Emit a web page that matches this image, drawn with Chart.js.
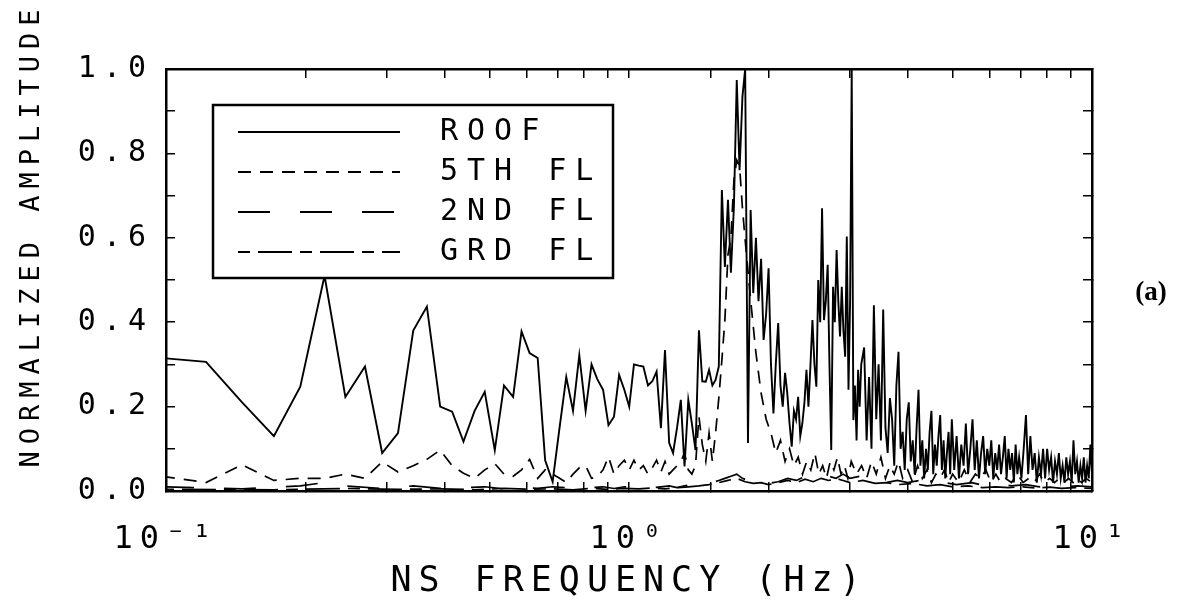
<!DOCTYPE html>
<html>
<head>
<meta charset="utf-8">
<title>NS frequency spectra</title>
<script src="https://cdn.jsdelivr.net/npm/chart.js@4.4.1/dist/chart.umd.min.js"></script>
<style>
  html, body { margin: 0; padding: 0; background: #fff; }
  #holder { position: relative; width: 1177px; height: 616px; }
</style>
</head>
<body>
<div id="holder"><canvas id="spectra"></canvas></div>
<script>
/*
 * Normalized Fourier amplitude spectra, NS direction
 * (roof, 5th floor, 2nd floor and ground floor records)
 */

var PLOT_FONT = '"DejaVu Sans Mono"';
var TEXT_SPACING = '7px';

// FFT bins (Hz)
var binFreq = [
    0.098, 0.122, 0.146, 0.171, 0.195, 0.220, 0.244, 0.269, 0.293, 0.317,
    0.342, 0.366, 0.391, 0.415, 0.439, 0.464, 0.488, 0.513, 0.537, 0.562,
    0.586, 0.610, 0.635, 0.659, 0.684, 0.708, 0.732, 0.757, 0.781, 0.806,
    0.830, 0.854, 0.879, 0.903, 0.928, 0.952, 0.977, 1.001, 1.025, 1.050,
    1.074, 1.099, 1.123, 1.147, 1.172, 1.196, 1.221, 1.245, 1.270, 1.294,
    1.318, 1.343, 1.367, 1.392, 1.416, 1.440, 1.465, 1.489, 1.514, 1.538,
    1.563, 1.587, 1.611, 1.636, 1.660, 1.685, 1.709, 1.733, 1.758, 1.782,
    1.807, 1.831, 1.855, 1.880, 1.904, 1.929, 1.953, 1.978, 2.002, 2.026,
    2.051, 2.075, 2.100, 2.124, 2.148, 2.173, 2.197, 2.222, 2.246, 2.271,
    2.295, 2.319, 2.344, 2.368, 2.393, 2.417, 2.441, 2.466, 2.490, 2.515,
    2.539, 2.563, 2.588, 2.612, 2.637, 2.661, 2.686, 2.710, 2.734, 2.759,
    2.783, 2.808, 2.832, 2.856, 2.881, 2.905, 2.930, 2.954, 2.979, 3.003,
    3.027, 3.052, 3.076, 3.101, 3.125, 3.149, 3.174
];

// ROOF
var roofLowAmp = [
    0.315, 0.306, 0.21, 0.130, 0.247, 0.51, 0.223, 0.295, 0.09, 0.137,
    0.38, 0.437, 0.20, 0.188, 0.117, 0.19, 0.235, 0.097, 0.25, 0.223,
    0.378, 0.327, 0.315, 0.073, 0.022, 0.15, 0.27, 0.19, 0.322, 0.19,
    0.30, 0.265, 0.24, 0.156, 0.176, 0.275, 0.24, 0.20, 0.30, 0.297,
    0.295, 0.25, 0.26, 0.283, 0.149, 0.334, 0.114, 0.09, 0.15, 0.216,
    0.058, 0.216, 0.16, 0.097, 0.381, 0.26, 0.259, 0.287, 0.25, 0.263,
    0.295, 0.713, 0.531, 0.69, 0.517, 0.674, 0.974, 0.76, 0.934, 1.0,
    0.114, 0.666, 0.469, 0.60, 0.45, 0.55, 0.358, 0.42, 0.528, 0.30,
    0.184, 0.30, 0.398, 0.25, 0.20, 0.28, 0.232, 0.16, 0.105, 0.19,
    0.17, 0.223, 0.13, 0.16, 0.21, 0.287, 0.20, 0.30, 0.405, 0.30,
    0.247, 0.50, 0.40, 0.67, 0.405, 0.45, 0.536, 0.30, 0.097, 0.484,
    0.40, 0.571, 0.45, 0.366, 0.484, 0.38, 0.318, 0.603, 0.24, 0.45,
    1.0, 0.168, 0.25, 0.12, 0.287, 0.20, 0.30
];
var roofTailFreq = [
    3.22, 3.26, 3.30, 3.34, 3.38, 3.42, 3.46, 3.50, 3.54, 3.58,
    3.62, 3.66, 3.70, 3.74, 3.78, 3.82, 3.86, 3.90, 3.94, 3.98,
    4.02, 4.06, 4.10, 4.14, 4.18, 4.22, 4.26, 4.30, 4.34, 4.38,
    4.42, 4.46, 4.50, 4.54, 4.58, 4.62, 4.66, 4.70, 4.74, 4.78,
    4.82, 4.86, 4.90, 4.94, 4.98,
    5.04, 5.10, 5.16, 5.22, 5.28, 5.34, 5.40, 5.46, 5.52, 5.58,
    5.64, 5.70, 5.76, 5.82, 5.88, 5.94, 6.00, 6.06, 6.12, 6.18,
    6.24, 6.30, 6.36, 6.42, 6.48, 6.54, 6.60, 6.66, 6.72, 6.78,
    6.84, 6.90, 6.96,
    7.04, 7.12, 7.20, 7.28, 7.36, 7.44, 7.52, 7.60, 7.68, 7.76,
    7.84, 7.92, 8.00, 8.08, 8.16, 8.24, 8.32, 8.40, 8.48, 8.56,
    8.64, 8.72, 8.80, 8.88, 8.96, 9.04, 9.12, 9.20, 9.28, 9.36,
    9.44, 9.52, 9.60, 9.68, 9.76, 9.84, 9.92, 10.00
];
var roofTailAmp = [
    0.34, 0.12, 0.27, 0.10, 0.44, 0.17, 0.30, 0.12, 0.43, 0.15,
    0.09, 0.22, 0.17, 0.06, 0.25, 0.33, 0.10, 0.14, 0.05, 0.17,
    0.21, 0.07, 0.12, 0.04, 0.15, 0.24, 0.06, 0.12, 0.03, 0.10,
    0.05, 0.14, 0.19, 0.04, 0.11, 0.06, 0.13, 0.18, 0.05, 0.12,
    0.03, 0.09, 0.14, 0.04, 0.17,
    0.05, 0.13, 0.03, 0.11, 0.06, 0.16, 0.04, 0.10, 0.17, 0.05,
    0.12, 0.03, 0.09, 0.13, 0.04, 0.10, 0.06, 0.12, 0.03, 0.09,
    0.05, 0.11, 0.04, 0.08, 0.13, 0.03, 0.10, 0.05, 0.09, 0.02,
    0.11, 0.04, 0.08,
    0.03, 0.10, 0.18, 0.04, 0.13, 0.05, 0.09, 0.02, 0.08, 0.04,
    0.10, 0.03, 0.10, 0.05, 0.08, 0.02, 0.07, 0.04, 0.09, 0.03,
    0.06, 0.02, 0.08, 0.04, 0.07, 0.02, 0.12, 0.04, 0.07, 0.02,
    0.06, 0.03, 0.08, 0.02, 0.06, 0.03, 0.11, 0.04
];

// 5TH FL (first 70 values sit on binFreq)
var fifthLowAmp = [
    0.035, 0.02, 0.062, 0.025, 0.03, 0.03, 0.04, 0.03, 0.069, 0.045,
    0.06, 0.075, 0.097, 0.06, 0.042, 0.03, 0.05, 0.065, 0.04, 0.035,
    0.05, 0.075, 0.03, 0.05, 0.04, 0.03, 0.02, 0.04, 0.055, 0.06,
    0.03, 0.034, 0.05, 0.081, 0.04, 0.06, 0.073, 0.05, 0.073, 0.05,
    0.06, 0.04, 0.055, 0.073, 0.045, 0.07, 0.04, 0.05, 0.06, 0.07,
    0.09, 0.05, 0.04, 0.06, 0.176, 0.11, 0.07, 0.137, 0.07, 0.137,
    0.22, 0.31, 0.405, 0.56, 0.60, 0.737, 0.784, 0.77, 0.67, 0.595
];
var fifthTailFreq = [
    1.831, 1.880, 1.929, 1.978, 2.026, 2.075, 2.124, 2.173, 2.222, 2.271,
    2.32, 2.37, 2.42, 2.47, 2.52, 2.57, 2.62, 2.67, 2.72, 2.77,
    2.82, 2.87, 2.92, 2.97, 3.02, 3.10, 3.18, 3.26, 3.34, 3.42,
    3.50, 3.58, 3.66, 3.74, 3.82, 3.90, 4.00, 4.10, 4.20, 4.30,
    4.40, 4.50, 4.60, 4.70, 4.80, 4.90, 5.00, 5.15, 5.30, 5.45,
    5.60, 5.75, 5.90, 6.05, 6.20, 6.35, 6.50, 6.70, 6.90, 7.10,
    7.30, 7.50, 7.70, 7.90, 8.10, 8.30, 8.50, 8.70, 8.90, 9.10,
    9.30, 9.50, 9.70, 10.00
];
var fifthTailAmp = [
    0.453, 0.327, 0.232, 0.17, 0.137, 0.09, 0.12, 0.07, 0.10, 0.06,
    0.08, 0.04, 0.07, 0.05, 0.09, 0.04, 0.06, 0.03, 0.07, 0.05,
    0.08, 0.04, 0.06, 0.03, 0.07, 0.04, 0.06, 0.03, 0.07, 0.04,
    0.08, 0.03, 0.06, 0.04, 0.07, 0.03, 0.05, 0.02, 0.06, 0.03,
    0.05, 0.02, 0.04, 0.03, 0.05, 0.02, 0.04, 0.02, 0.05, 0.02,
    0.04, 0.03, 0.05, 0.02, 0.04, 0.02, 0.03, 0.02, 0.04, 0.02,
    0.03, 0.02, 0.04, 0.02, 0.03, 0.02, 0.03, 0.02, 0.03, 0.02,
    0.03, 0.02, 0.03, 0.02
];

// 2ND FL
var secondFreq = [
    0.098, 0.146, 0.195, 0.220, 0.244, 0.293, 0.342, 0.391, 0.439, 0.488,
    0.537, 0.586, 0.635, 0.684, 0.732, 0.781, 0.830, 0.879, 0.928, 0.977,
    1.025, 1.074, 1.123, 1.172, 1.221, 1.270, 1.318, 1.367, 1.416, 1.465,
    1.514, 1.563, 1.611, 1.660, 1.709, 1.758, 1.807, 1.855, 1.904, 1.953,
    2.002, 2.10, 2.20, 2.30, 2.40, 2.50, 2.60, 2.70, 2.80, 2.90,
    3.00, 3.15, 3.30, 3.45, 3.60, 3.80, 4.00, 4.25, 4.50, 4.80,
    5.10, 5.50, 5.90, 6.30, 6.70, 7.20, 7.70, 8.20, 8.70, 9.30,
    10.0
];
var secondAmp = [
    0.01, 0.005, 0.012, 0.02, 0.012, 0.006, 0.012, 0.006, 0.008, 0.01,
    0.005, 0.008, 0.006, 0.01, 0.008, 0.012, 0.008, 0.01, 0.006, 0.01,
    0.008, 0.012, 0.008, 0.01, 0.012, 0.008, 0.012, 0.015, 0.01, 0.018,
    0.02, 0.025, 0.03, 0.035, 0.04, 0.03, 0.025, 0.03, 0.02, 0.025,
    0.018, 0.022, 0.03, 0.025, 0.035, 0.03, 0.04, 0.035, 0.03, 0.04,
    0.03, 0.035, 0.025, 0.03, 0.02, 0.025, 0.02, 0.025, 0.015, 0.02,
    0.015, 0.02, 0.012, 0.018, 0.012, 0.015, 0.01, 0.014, 0.01, 0.012,
    0.01
];

// GRD FL
var groundFreq = [
    0.098, 0.171, 0.244, 0.317, 0.391, 0.464, 0.537, 0.610, 0.684, 0.757,
    0.830, 0.903, 0.977, 1.050, 1.123, 1.196, 1.270, 1.343, 1.416, 1.489,
    1.563, 1.636, 1.709, 1.782, 1.855, 1.929, 2.00, 2.10, 2.20, 2.30,
    2.40, 2.50, 2.60, 2.70, 2.80, 2.90, 3.00, 3.20, 3.40, 3.60,
    3.80, 4.10, 4.40, 4.70, 5.00, 5.40, 5.80, 6.20, 6.60, 7.10,
    7.60, 8.10, 8.60, 9.20, 10.0
];
var groundAmp = [
    0.004, 0.003, 0.006, 0.004, 0.005, 0.003, 0.006, 0.004, 0.005, 0.003,
    0.006, 0.004, 0.006, 0.005, 0.007, 0.005, 0.008, 0.01, 0.012, 0.015,
    0.02, 0.025, 0.03, 0.022, 0.018, 0.02, 0.015, 0.02, 0.025, 0.02,
    0.028, 0.022, 0.03, 0.025, 0.03, 0.025, 0.02, 0.025, 0.018, 0.02,
    0.015, 0.018, 0.012, 0.015, 0.01, 0.012, 0.008, 0.01, 0.008, 0.01,
    0.007, 0.009, 0.006, 0.008, 0.006
];

var seriesLabels = ['ROOF', '5TH FL', '2ND FL', 'GRD FL'];
var xTickLabels = { '-1': '10⁻¹', '0': '10⁰', '1': '10¹' };
var yTickLabels = ['0.0', '0.2', '0.4', '0.6', '0.8', '1.0'];
var yTitle = 'NORMALIZED AMPLITUDE';
var xTitle = 'NS FREQUENCY (Hz)';
var panelTag = '(a)';

/*
 * Pairs a frequency list with its amplitude list
 */
var pairs = function(freq, amp) {
    return freq.map(function(f, i) {
        return { x: f, y: amp[i] };
    });
};

var lineSet = function(label, points, dash, width) {
    return {
        label: label,
        data: points,
        borderColor: '#000',
        borderWidth: width,
        borderDash: dash,
        pointRadius: 0,
        tension: 0,
        fill: false
    };
};

/*
 * Wide plotter lettering for everything Chart.js writes
 */
var plotterText = {
    id: 'plotterText',
    beforeUpdate: function(chart) { chart.ctx.letterSpacing = TEXT_SPACING; },
    beforeDraw: function(chart) { chart.ctx.letterSpacing = TEXT_SPACING; }
};

/*
 * Boxed legend inside the plot, the amplitude caption and the panel tag
 */
var boxLegend = {
    id: 'boxLegend',
    afterDraw: function(chart) {
        var ctx = chart.ctx;
        var area = chart.chartArea;
        var left = area.left + 47, top = area.top + 36;

        ctx.save();
        ctx.fillStyle = '#fff';
        ctx.fillRect(left, top, 400, 173);
        ctx.lineWidth = 2.5;
        ctx.strokeStyle = '#000';
        ctx.strokeRect(left, top, 400, 173);

        ctx.font = '30px ' + PLOT_FONT;
        ctx.letterSpacing = '9px';
        ctx.textBaseline = 'middle';
        ctx.fillStyle = '#000';
        chart.data.datasets.forEach(function(ds, i) {
            var y = top + 27 + i * 40;
            ctx.setLineDash(ds.borderDash);
            ctx.lineWidth = 2.2;
            ctx.beginPath();
            ctx.moveTo(left + 25, y);
            ctx.lineTo(left + 187, y);
            ctx.stroke();
            ctx.setLineDash([]);
            ctx.fillText(ds.label, left + 227, y);
        });

        // Amplitude caption, reading upwards along the left edge
        ctx.save();
        ctx.font = '27px ' + PLOT_FONT;
        ctx.letterSpacing = TEXT_SPACING;
        ctx.textAlign = 'center';
        ctx.translate(32, area.top + 166);
        ctx.rotate(-Math.PI / 2);
        ctx.fillText(yTitle, 0, 0);
        ctx.restore();

        // Panel tag
        ctx.letterSpacing = '0px';
        ctx.font = 'bold 27px "Liberation Serif"';
        ctx.textAlign = 'center';
        ctx.fillText(panelTag, area.right + 59, area.top + 224);
        ctx.restore();
    }
};

var tickMarks = function() {
    return { drawOnChartArea: false, drawTicks: true, tickLength: -9, color: '#000', lineWidth: 1.5 };
};
var frame = { display: true, color: '#000', width: 2.5 };

Chart.defaults.font.family = PLOT_FONT;
Chart.defaults.color = '#000';

var chart = new Chart(document.getElementById('spectra').getContext('2d'), {
    type: 'line',
    data: {
        datasets: [
            lineSet(seriesLabels[0], pairs(binFreq.concat(roofTailFreq), roofLowAmp.concat(roofTailAmp)), [], 1.9),
            lineSet(seriesLabels[1], pairs(binFreq.slice(0, fifthLowAmp.length).concat(fifthTailFreq), fifthLowAmp.concat(fifthTailAmp)), [13, 9], 1.7),
            lineSet(seriesLabels[2], pairs(secondFreq, secondAmp), [32, 30], 1.7),
            lineSet(seriesLabels[3], pairs(groundFreq, groundAmp), [12, 8, 34, 8], 1.7)
        ]
    },
    options: {
        responsive: true,
        maintainAspectRatio: false,
        animation: false,
        layout: { padding: 0 },
        plugins: {
            legend: { display: false },
            tooltip: { enabled: false }
        },
        scales: {
            x: {
                type: 'logarithmic',
                position: 'bottom',
                min: 0.1,
                max: 10,
                grid: tickMarks(),
                border: frame,
                ticks: {
                    autoSkip: false,
                    maxRotation: 0,
                    padding: 38,
                    font: { size: 32 },
                    callback: function(value) {
                        var e = Math.log10(value);
                        var r = Math.round(e);
                        return Math.abs(e - r) < 1e-6 && xTickLabels[r] ? xTickLabels[r] : '';
                    }
                },
                title: {
                    display: true,
                    text: xTitle,
                    font: { size: 35 },
                    padding: { top: 0, bottom: 13 }
                },
                afterFit: function(scale) { scale.height = 125; }
            },
            x2: {
                type: 'logarithmic',
                position: 'top',
                min: 0.1,
                max: 10,
                grid: tickMarks(),
                border: frame,
                ticks: { display: false, autoSkip: false },
                afterFit: function(scale) { scale.height = 69; }
            },
            y: {
                type: 'linear',
                position: 'left',
                min: 0,
                max: 1,
                grid: tickMarks(),
                border: frame,
                ticks: {
                    stepSize: 0.1,
                    autoSkip: false,
                    padding: 22,
                    font: { size: 30 },
                    callback: function(value) {
                        var tenth = Math.round(value * 10);
                        return tenth % 2 === 0 ? yTickLabels[tenth / 2] : '';
                    }
                },
                afterFit: function(scale) { scale.width = 166; }
            },
            y2: {
                type: 'linear',
                position: 'right',
                min: 0,
                max: 1,
                grid: tickMarks(),
                border: frame,
                ticks: { display: false, stepSize: 0.1, autoSkip: false },
                afterFit: function(scale) { scale.width = 85; }
            }
        }
    },
    plugins: [plotterText, boxLegend]
});
</script>
</body>
</html>
